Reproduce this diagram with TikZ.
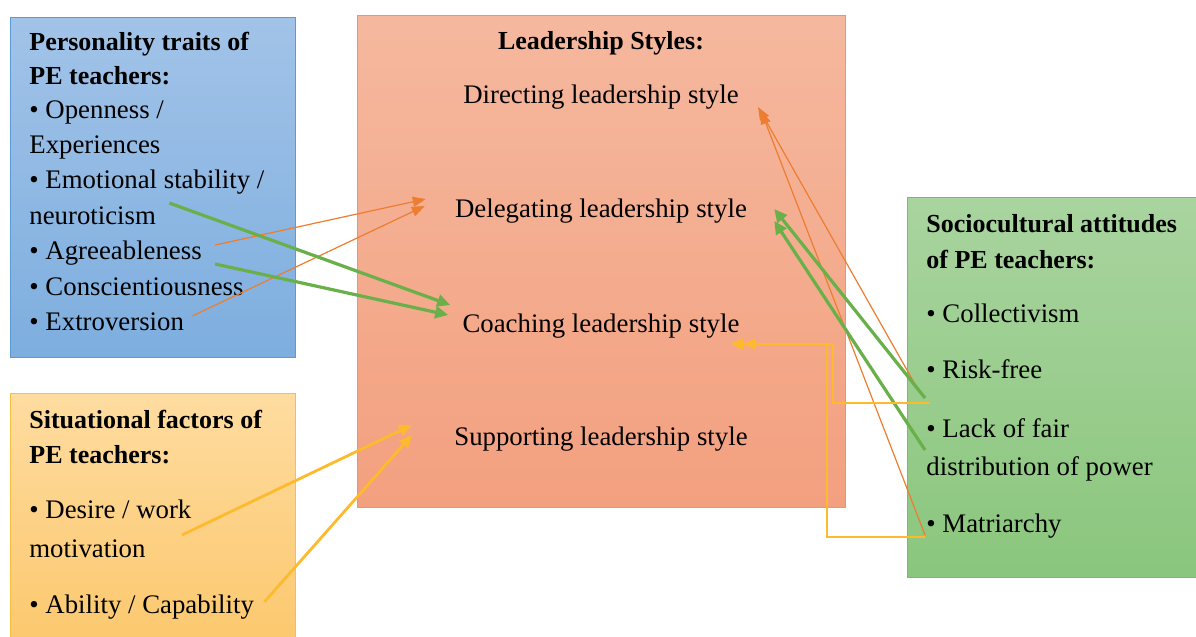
\documentclass[tikz,border=0pt]{standalone}
\usepackage{fontspec}
\setmainfont{Liberation Serif}
\usepackage{tikz}
\usetikzlibrary{arrows.meta}
\tikzset{>={Triangle[length=6.5pt,width=5pt]}}

\definecolor{blueline}{HTML}{5B9BD5}
\definecolor{bluetop}{HTML}{A2C3E8}
\definecolor{bluebottom}{HTML}{7DAEDF}
\definecolor{orangeline}{HTML}{F0955F}
\definecolor{orangetop}{HTML}{F5B89E}
\definecolor{orangebottom}{HTML}{F3A07F}
\definecolor{yellowline}{HTML}{F9C040}
\definecolor{yellowtop}{HTML}{FEDCA0}
\definecolor{yellowbottom}{HTML}{FCC86E}
\definecolor{greenline}{HTML}{7DBB5E}
\definecolor{greentop}{HTML}{A9D49F}
\definecolor{greenbottom}{HTML}{8AC67D}
\definecolor{arroworange}{HTML}{ED7D31}
\definecolor{arrowgreen}{HTML}{6AB04A}
\definecolor{arrowyellow}{HTML}{FDBA2C}

\tikzset{
  item/.style={anchor=base west, inner sep=0pt, font=\fontsize{13.4}{16}\selectfont},
  heading/.style={item, font=\fontsize{13}{16}\selectfont\bfseries},
  stylename/.style={anchor=base, inner sep=0pt, font=\fontsize{13.4}{16}\selectfont},
  panel/.style={line width=0.5pt, inner sep=0pt},
  orangelink/.style={->, color=arroworange, line width=0.6pt},
  greenlink/.style={-{Triangle[length=6.5pt,width=6pt]}, color=arrowgreen, line width=1.6pt},
  yellowlink/.style={-{Triangle[length=6.5pt,width=5.5pt]}, color=arrowyellow, line width=1.4pt},
  yellowelbow/.style={-{Triangle[length=6pt,width=5.5pt]}, color=arrowyellow, line width=1.1pt}
}

\begin{document}
\begin{tikzpicture}[x=0.5pt, y=-0.5pt]
        \useasboundingbox (0,0) rectangle (1196,637);

        % panels
        \node [panel, draw=blueline, top color=bluetop, bottom color=bluebottom,
               minimum width=142.5pt, minimum height=170pt] (traits) at (152.5,187) {};
        \node [panel, draw=orangeline, top color=orangetop, bottom color=orangebottom,
               minimum width=244pt, minimum height=246pt] (styles) at (601,261) {};
        \node [panel, draw=yellowline, top color=yellowtop, bottom color=yellowbottom,
               minimum width=142.5pt, minimum height=124pt] (situation) at (152.5,517) {};
        \node [panel, draw=greenline, top color=greentop, bottom color=greenbottom,
               minimum width=150pt, minimum height=190pt] (culture) at (1057,387) {};

        % personality traits
        \node [heading] (traitsA) at (29,50) {Personality traits of};
        \node [heading] (traitsB) at (29,84) {PE teachers:};
        \node [item] (open) at (29,118) {\textbullet{} Openness /};
        \node [item] (exper) at (29,153) {Experiences};
        \node [item] (emot) at (29,188) {\textbullet{} Emotional stability /};
        \node [item] (neuro) at (29,224) {neuroticism};
        \node [item] (agree) at (29,259) {\textbullet{} Agreeableness};
        \node [item] (consc) at (29,295) {\textbullet{} Conscientiousness};
        \node [item] (extro) at (29,330) {\textbullet{} Extroversion};

        % situational factors
        \node [heading] (situA) at (29,428) {Situational factors of};
        \node [heading] (situB) at (29,463) {PE teachers:};
        \node [item] (desire) at (29,518) {\textbullet{} Desire / work};
        \node [item] (motiv) at (29,557) {motivation};
        \node [item] (ability) at (29,613) {\textbullet{} Ability / Capability};

        % leadership styles
        \node [stylename, font=\fontsize{13}{16}\selectfont\bfseries] (stylesT) at (601,49) {Leadership Styles:};
        \node [stylename] (direct) at (601,103) {Directing leadership style};
        \node [stylename] (deleg) at (601,217) {Delegating leadership style};
        \node [stylename] (coach) at (601,332) {Coaching leadership style};
        \node [stylename] (supp) at (601,445) {Supporting leadership style};

        % sociocultural attitudes
        \node [heading] (cultA) at (926,232) {Sociocultural attitudes};
        \node [heading] (cultB) at (926,268) {of PE teachers:};
        \node [item] (collect) at (926,322) {\textbullet{} Collectivism};
        \node [item] (risk) at (926,378) {\textbullet{} Risk-free};
        \node [item] (lack) at (926,437) {\textbullet{} Lack of fair};
        \node [item] (distr) at (926,475) {distribution of power};
        \node [item] (matri) at (926,532) {\textbullet{} Matriarchy};

        % links from the left
        \draw [orangelink] ([xshift=6.5pt,yshift=7pt]agree.base east)--([xshift=-14.5pt,yshift=9pt]deleg.base west);
        \draw [orangelink] ([xshift=4pt,yshift=7pt]extro.base east)--([xshift=-15pt,yshift=5.5pt]deleg.base west);
        \draw [greenlink] ([xshift=6.5pt,yshift=10.5pt]neuro.base east)--([xshift=-6pt,yshift=13.5pt]coach.base west);
        \draw [greenlink] ([xshift=6.5pt,yshift=-2.5pt]agree.base east)--([xshift=-7pt,yshift=8.5pt]coach.base west);
        \draw [yellowlink] ([xshift=18pt,yshift=11pt]motiv.base east)--([xshift=-21pt,yshift=10pt]supp.base west);
        \draw [yellowlink] ([xshift=5pt,yshift=5.5pt]ability.base east)--([xshift=-21pt,yshift=5pt]supp.base west);

        % links from the right
        \draw [orangelink] ([xshift=-3pt,yshift=-7.5pt]risk.base west)--([xshift=9.5pt,yshift=-2pt]direct.base east);
        \draw [orangelink] ([xshift=-0.5pt,yshift=-1.5pt]matri.base west)--([xshift=11pt,yshift=-4pt]direct.base east);
        \draw [greenlink] ([xshift=-0.5pt,yshift=-10pt]risk.base west)--([xshift=13.5pt,yshift=4pt]deleg.base east);
        \draw [greenlink] ([xshift=-0.5pt,yshift=-6.5pt]lack.base west)--([xshift=13.5pt,yshift=-2pt]deleg.base east);
        \draw [yellowelbow] ([xshift=2pt,yshift=-12.5pt]risk.base west) -- ++(-97,0) |- ([xshift=2pt,yshift=-6pt]coach.base east);
        \draw [yellowelbow] ([xshift=-0.5pt,yshift=-2.5pt]matri.base west) -- ++(-98,0) |- ([xshift=-4.5pt,yshift=-6pt]coach.base east);
    \end{tikzpicture}
\end{document}
